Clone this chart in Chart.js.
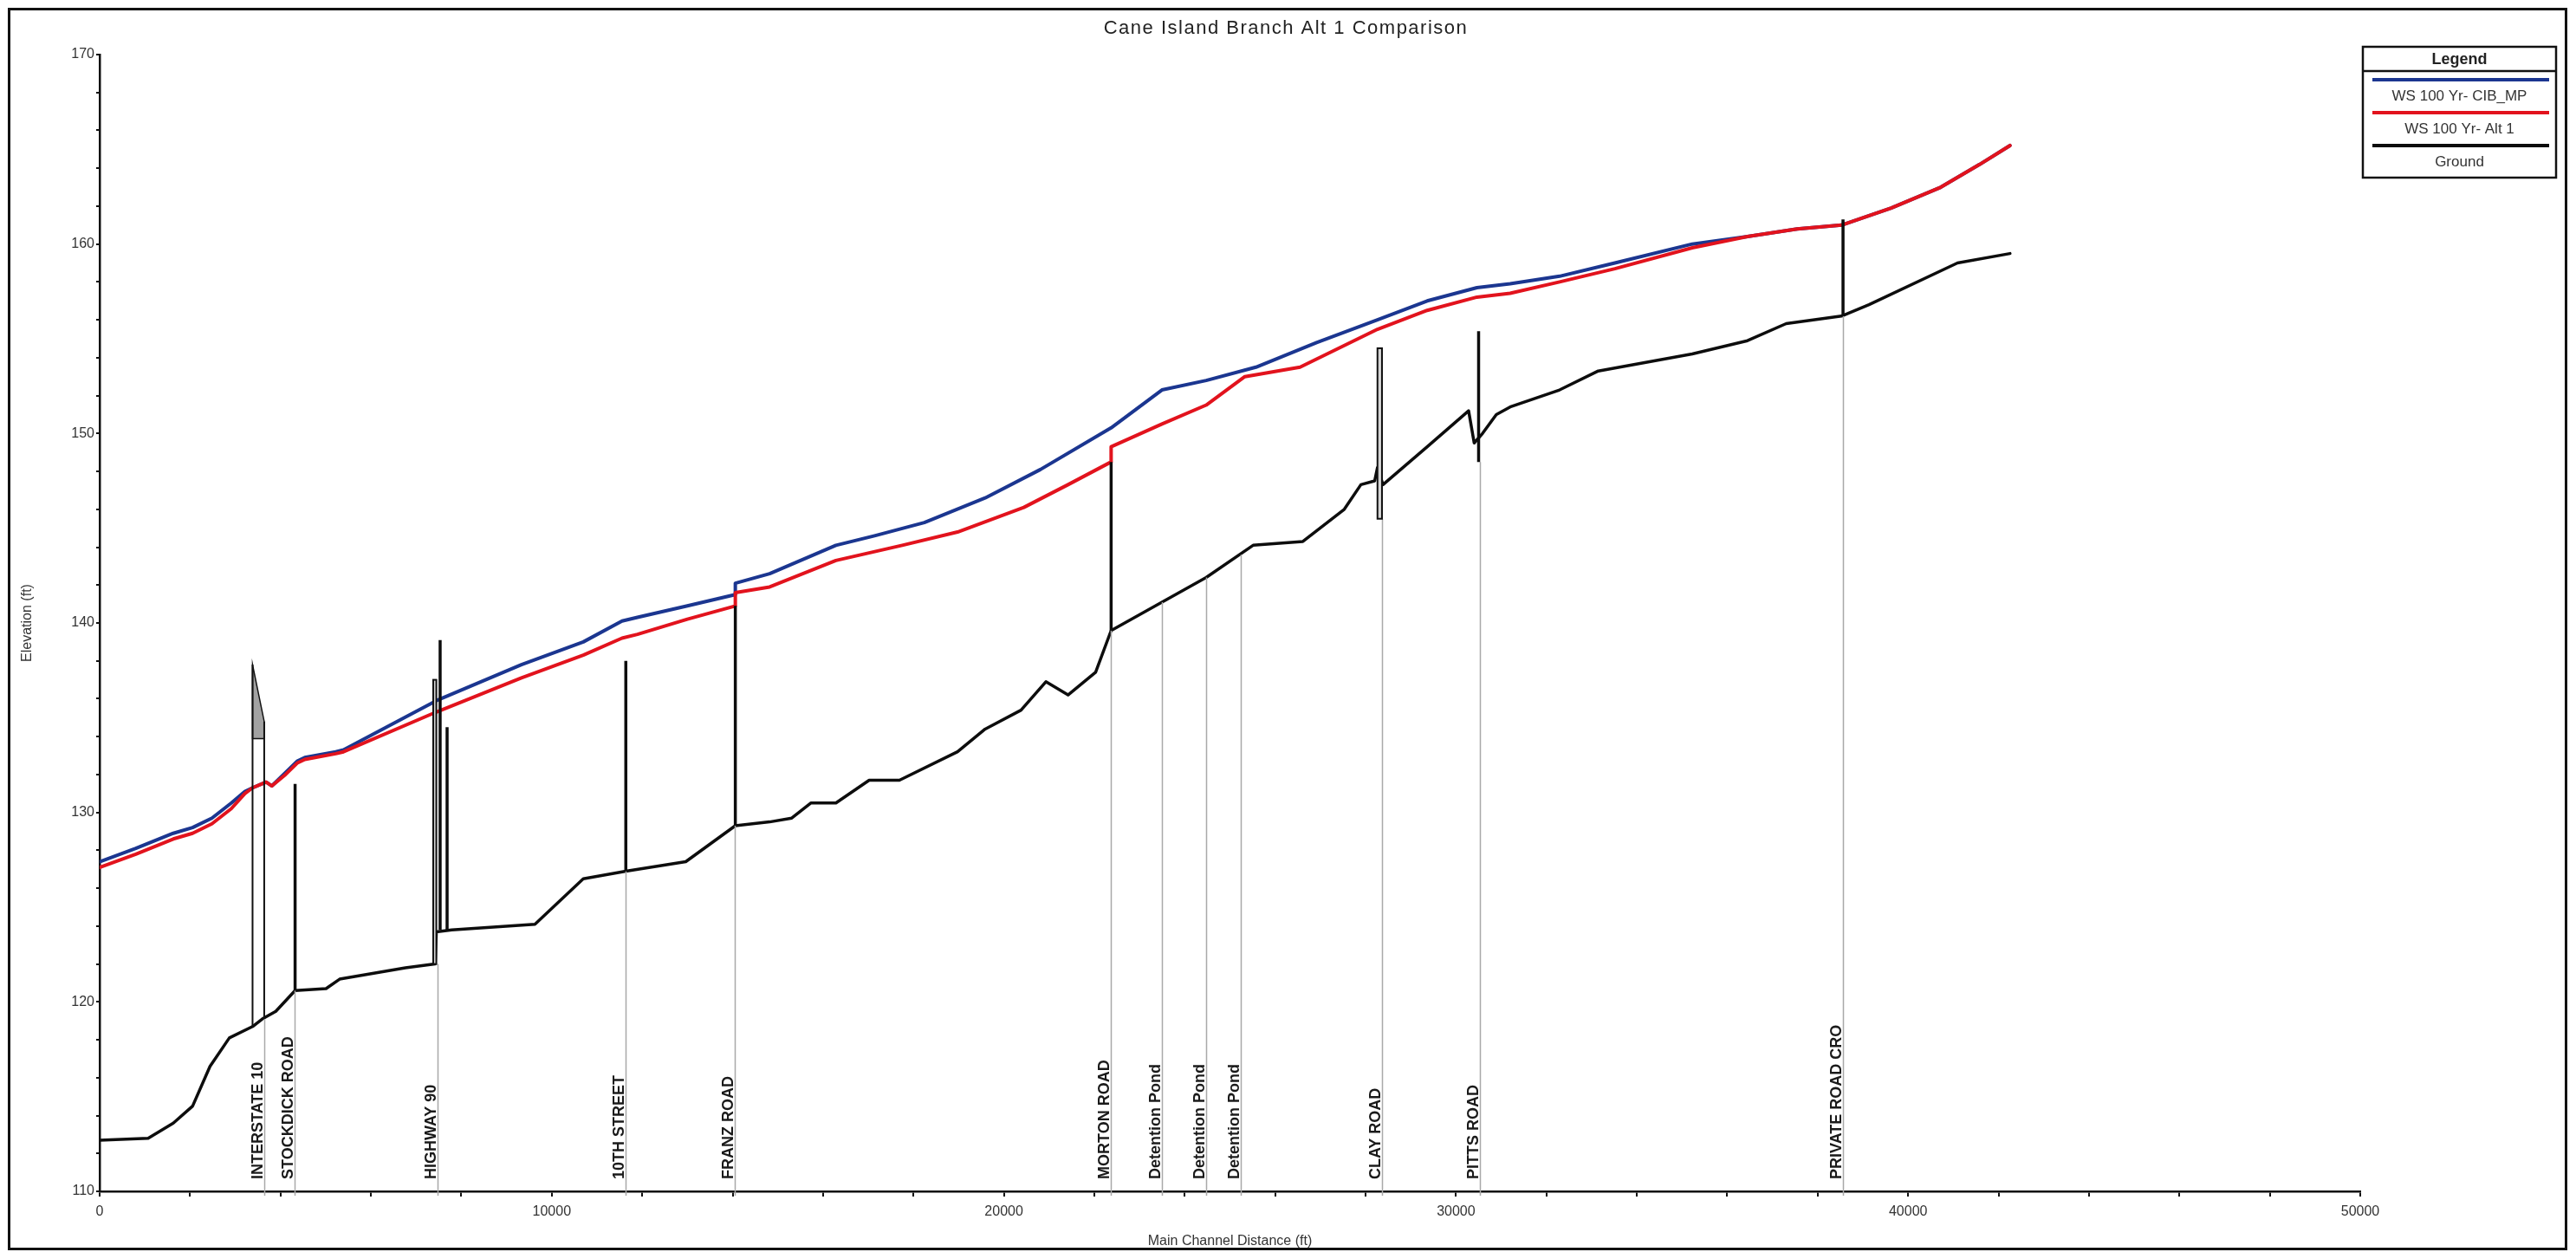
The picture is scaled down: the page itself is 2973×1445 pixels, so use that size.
<!DOCTYPE html>
<html>
<head>
<meta charset="utf-8">
<title>Cane Island Branch Alt 1 Comparison</title>
<script src="https://cdn.jsdelivr.net/npm/chart.js@4.4.1/dist/chart.umd.min.js"></script>
<style>
  html, body { margin: 0; padding: 0; background: #fff; }
  canvas { display: block; }
</style>
</head>
<body>
<canvas id="profile" width="2973" height="1445"></canvas>
<script>
// ---- Text ----
const chartTitle = 'Cane Island Branch Alt 1 Comparison';
const xAxisTitle = 'Main Channel Distance (ft)';
const yAxisTitle = 'Elevation (ft)';
const legendTitle = 'Legend';
const xTickLabels = [0, 10000, 20000, 30000, 40000, 50000];
const yTickLabels = [110, 120, 130, 140, 150, 160, 170];

// ---- Water surface, existing master plan (CIB_MP) ----
const cibStations = [0, 800, 1629, 2056, 2484, 2913, 3212, 3382, 3682, 3810, 4111, 4367, 4538, 5222, 5393,
  7447, 9329, 10697, 11554, 11895, 13000, 14060, 14060, 14819, 16285, 17140, 18240, 19586, 20808, 22372,
  23496, 24474, 25574, 26917, 28263, 29363, 30463, 31197, 32291, 33514, 35225, 36446, 37546, 38526,
  39625, 40723, 41580, 42253];
const cibElev = [127.4, 128.1, 128.9, 129.2, 129.7, 130.5, 131.1, 131.3, 131.6, 131.4, 132.1, 132.7, 132.9, 133.2, 133.3,
  135.9, 137.8, 139.0, 140.1, 140.3, 140.9, 141.5, 142.1, 142.6, 144.1, 144.6, 145.3, 146.6, 148.1, 150.3,
  152.3, 152.8, 153.5, 154.8, 156.0, 157.0, 157.7, 157.9, 158.3, 159.0, 160.0, 160.4, 160.8, 161.0,
  161.9, 163.0, 164.2, 165.2];

// ---- Water surface, Alternative 1 ----
const alt1Stations = [0, 800, 1629, 2056, 2484, 2913, 3212, 3382, 3682, 3810, 4111, 4367, 4538, 5222, 5393,
  7447, 9329, 10697, 11554, 11895, 13000, 14060, 14060, 14819, 16285, 17752, 18975, 20441, 21419, 22372,
  22372, 23496, 24474, 25329, 26551, 28263, 29363, 30463, 31197, 32291, 33514, 35225, 36446, 37546,
  38526, 39625, 40723, 41580, 42253];
const alt1Elev = [127.1, 127.8, 128.6, 128.9, 129.4, 130.2, 131.0, 131.3, 131.6, 131.4, 132.0, 132.6, 132.8, 133.1, 133.2,
  135.3, 137.1, 138.3, 139.2, 139.4, 140.2, 140.9, 141.6, 141.9, 143.3, 144.1, 144.8, 146.1, 147.3, 148.5,
  149.3, 150.5, 151.5, 153.0, 153.5, 155.5, 156.5, 157.2, 157.4, 158.0, 158.7, 159.8, 160.4, 160.8,
  161.0, 161.9, 163.0, 164.2, 165.2];

// ---- Channel invert (ground) ----
const groundStations = [0, 1073, 1629, 2056, 2441, 2869, 3382, 3597, 3896, 4323, 5008, 5308, 6763, 7420, 7447,
  7788, 9628, 10697, 11638, 12964, 14060, 14819, 15308, 15735, 16285, 17020, 17690, 18975, 19586, 20379,
  20929, 21419, 22029, 22372, 23496, 24474, 25512, 26613, 27529, 27896, 28201, 28263, 28385, 29363,
  30279, 30402, 30586, 30891, 31197, 32291, 33146, 35225, 36446, 37303, 38526, 39135, 41092, 42253];
const groundElev = [112.7, 112.8, 113.6, 114.5, 116.6, 118.1, 118.7, 119.1, 119.5, 120.6, 120.7, 121.2, 121.8, 122.0, 123.7,
  123.8, 124.1, 126.5, 126.9, 127.4, 129.3, 129.5, 129.7, 130.5, 130.5, 131.7, 131.7, 133.2, 134.4, 135.4,
  136.9, 136.2, 137.4, 139.6, 141.1, 142.4, 144.1, 144.3, 146.0, 147.3, 147.5, 148.2, 147.3, 149.3,
  151.2, 149.5, 150.0, 151.0, 151.4, 152.3, 153.3, 154.2, 154.9, 155.8, 156.2, 156.8, 159.0, 159.5];

// ---- Crossings: reference line station, foot elevation and name ----
const crossingNames = ['INTERSTATE 10', 'STOCKDICK ROAD', 'HIGHWAY 90', '10TH STREET', 'FRANZ ROAD',
  'MORTON ROAD', 'Detention Pond', 'Detention Pond', 'Detention Pond', 'CLAY ROAD', 'PITTS ROAD',
  'PRIVATE ROAD CRO'];
const crossingStations = [3640, 4310, 7465, 11642, 14045, 22370, 23490, 24470, 25230, 28365, 30520, 38565];
const crossingFoot = [119.1, 120.6, 122.0, 126.9, 129.3, 139.6, 141.1, 142.4, 143.6, 145.5, 148.5, 156.2];

// ---- Bridge openings drawn as solid bars ----
const barStations = [4323, 7531, 7685, 11638, 14060, 22372, 30500, 38560];
const barBottoms = [120.6, 123.8, 123.8, 126.9, 129.3, 139.6, 148.5, 156.2];
const barTops = [131.5, 139.1, 134.5, 138.0, 140.9, 148.5, 155.4, 161.3];

// ---- Culvert / embankment boxes ----
const boxLeft = [7378, 28263];
const boxRight = [7447, 28363];
const boxBottom = [122.0, 145.5];
const boxTop = [137.0, 154.5];

// ---- Interstate deck (sloped top, shaded chord) ----
const deckStations = [3382, 3640];
const deckTop = [137.8, 134.8];
const deckLowChord = [133.9, 133.9];
const deckFoot = [118.7, 119.1];

const SANS = '"Liberation Sans", Arial, Helvetica, sans-serif';
const toPoints = (xs, ys) => xs.map((v, i) => ({ x: v, y: ys[i] }));

const lineDefaults = { pointRadius: 0, tension: 0, fill: false, borderJoinStyle: 'round', borderCapStyle: 'round' };

const profileDecor = {
  id: 'profileDecor',
  beforeDraw(chart) {
    const ctx = chart.ctx;
    ctx.save();
    ctx.fillStyle = '#ffffff';
    ctx.fillRect(0, 0, chart.width, chart.height);
    ctx.restore();
  },
  afterDatasetsDraw(chart) {
    const { ctx, chartArea } = chart;
    const xs = chart.scales.x, ys = chart.scales.y;
    const px = v => xs.getPixelForValue(v);
    const py = v => ys.getPixelForValue(v);
    ctx.save();

    // reference lines and rotated crossing names
    crossingStations.forEach((s, i) => {
      const x = Math.round(px(s)) + 0.5;
      ctx.strokeStyle = '#a9a9a9';
      ctx.lineWidth = 1.5;
      ctx.beginPath();
      ctx.moveTo(x, py(crossingFoot[i]));
      ctx.lineTo(x, chartArea.bottom + 5);
      ctx.stroke();
      ctx.save();
      ctx.translate(x - 3, chartArea.bottom - 14);
      ctx.rotate(-Math.PI / 2);
      ctx.font = 'bold 18px ' + SANS;
      ctx.fillStyle = '#1a1a1a';
      ctx.textAlign = 'left';
      ctx.textBaseline = 'alphabetic';
      ctx.fillText(crossingNames[i], 0, 0);
      ctx.restore();
    });

    // interstate deck
    const xl = px(deckStations[0]), xr = px(deckStations[1]);
    ctx.fillStyle = '#a2a2a2';
    ctx.strokeStyle = '#111';
    ctx.lineWidth = 1.5;
    ctx.beginPath();
    ctx.moveTo(xl, py(deckTop[0]));
    ctx.lineTo(xr, py(deckTop[1]));
    ctx.lineTo(xr, py(deckLowChord[1]));
    ctx.lineTo(xl, py(deckLowChord[0]));
    ctx.closePath();
    ctx.fill();
    ctx.stroke();
    ctx.lineWidth = 2;
    ctx.beginPath();
    ctx.moveTo(xl, py(deckFoot[0])); ctx.lineTo(xl, py(deckTop[0]));
    ctx.moveTo(xr, py(deckFoot[1])); ctx.lineTo(xr, py(deckTop[1]));
    ctx.stroke();

    // culvert boxes
    boxLeft.forEach((s, i) => {
      const l = px(s), r = px(boxRight[i]);
      const t = py(boxTop[i]), b = py(boxBottom[i]);
      ctx.fillStyle = '#d4d4d4';
      ctx.fillRect(l, t, r - l, b - t);
      ctx.strokeStyle = '#111';
      ctx.lineWidth = 2;
      ctx.strokeRect(l, t, r - l, b - t);
    });

    // bridge bars
    ctx.strokeStyle = '#0d0d0d';
    ctx.lineWidth = 3.5;
    ctx.lineCap = 'butt';
    barStations.forEach((s, i) => {
      const x = px(s);
      ctx.beginPath();
      ctx.moveTo(x, py(barBottoms[i]));
      ctx.lineTo(x, py(barTops[i]));
      ctx.stroke();
    });
    ctx.restore();
  },
  afterDraw(chart) {
    const ctx = chart.ctx;
    ctx.save();

    // title
    ctx.font = '22px ' + SANS;
    ctx.fillStyle = '#222';
    ctx.textAlign = 'center';
    ctx.textBaseline = 'middle';
    ctx.letterSpacing = '1.5px';
    ctx.fillText(chartTitle, 1484, 33);
    ctx.letterSpacing = '0px';

    // legend box
    const L = 2727, T = 54, W = 223, H = 151, HEAD = 28;
    ctx.fillStyle = '#fff';
    ctx.fillRect(L, T, W, H);
    ctx.strokeStyle = '#111';
    ctx.lineWidth = 2.5;
    ctx.strokeRect(L, T, W, H);
    ctx.beginPath();
    ctx.moveTo(L, T + HEAD); ctx.lineTo(L + W, T + HEAD);
    ctx.stroke();
    ctx.font = 'bold 18px ' + SANS;
    ctx.fillStyle = '#222';
    ctx.fillText(legendTitle, L + W / 2, T + HEAD / 2 + 1);

    const order = [0, 1, 2];
    order.forEach((di, k) => {
      const ds = chart.data.datasets[di];
      const ly = T + HEAD + 10 + k * 38;
      ctx.strokeStyle = ds.borderColor;
      ctx.lineWidth = 4;
      ctx.beginPath();
      ctx.moveTo(L + 11, ly); ctx.lineTo(L + W - 8, ly);
      ctx.stroke();
      ctx.font = '17px ' + SANS;
      ctx.fillStyle = '#333';
      ctx.fillText(ds.label, L + W / 2, ly + 19);
    });

    // outer frame
    ctx.strokeStyle = '#111';
    ctx.lineWidth = 3;
    ctx.strokeRect(10.5, 10.5, 2951, 1431);
    ctx.restore();
  }
};

new Chart(document.getElementById('profile'), {
  type: 'line',
  data: {
    datasets: [
      Object.assign({ label: 'WS 100 Yr- CIB_MP', data: toPoints(cibStations, cibElev),
        borderColor: '#1b3690', borderWidth: 4, order: 2 }, lineDefaults),
      Object.assign({ label: 'WS 100 Yr- Alt 1', data: toPoints(alt1Stations, alt1Elev),
        borderColor: '#e2131d', borderWidth: 4, order: 1 }, lineDefaults),
      Object.assign({ label: 'Ground', data: toPoints(groundStations, groundElev),
        borderColor: '#0d0d0d', borderWidth: 3.5, order: 0 }, lineDefaults)
    ]
  },
  options: {
    responsive: false,
    animation: false,
    events: [],
    layout: { padding: { left: 0, right: 249, top: 63, bottom: 0 } },
    plugins: { legend: { display: false }, title: { display: false }, tooltip: { enabled: false } },
    scales: {
      x: {
        type: 'linear', min: 0, max: 50000,
        afterFit(s) { s.height = 70; },
        border: { color: '#111', width: 2.5 },
        grid: { drawOnChartArea: false, drawTicks: true, tickLength: 6, color: '#111', lineWidth: 2 },
        ticks: {
          stepSize: 2000, autoSkip: false, maxRotation: 0, minRotation: 0, padding: 8,
          color: '#333', font: { family: SANS, size: 16 },
          callback: v => (xTickLabels.includes(v) ? String(v) : '')
        },
        title: { display: true, text: xAxisTitle, color: '#333', font: { family: SANS, size: 16 },
          padding: { top: 0, bottom: 3 } }
      },
      y: {
        type: 'linear', min: 110, max: 170,
        afterFit(s) { s.width = 115; },
        border: { color: '#111', width: 2.5 },
        grid: { drawOnChartArea: false, drawTicks: true, tickLength: 4, color: '#111', lineWidth: 2 },
        ticks: {
          stepSize: 2, autoSkip: false, padding: 2,
          color: '#333', font: { family: SANS, size: 16 },
          callback: v => (yTickLabels.includes(v) ? String(v) : '')
        },
        title: { display: true, text: yAxisTitle, color: '#333', font: { family: SANS, size: 16 },
          padding: { top: 22, bottom: 0 } }
      }
    }
  },
  plugins: [profileDecor]
});
</script>
</body>
</html>
